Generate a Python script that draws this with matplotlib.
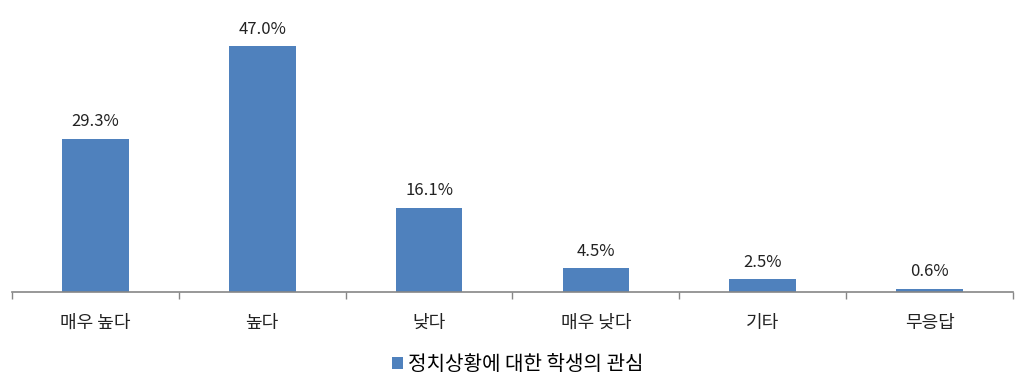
import matplotlib.pyplot as plt
import numpy as np

plt.rcParams['font.family'] = ['Noto Sans CJK KR', 'DejaVu Sans']

# data
categories = ['매우 높다', '높다', '낮다', '매우 낮다', '기타', '무응답']
values = [29.3, 47.0, 16.1, 4.5, 2.5, 0.6]
series_name = '정치상황에 대한 학생의 관심'

fig = plt.figure(figsize=(10.24, 3.89), dpi=100)
ax = fig.add_axes([12/1024, 1 - 292/389, 1001/1024, 261.5/389])

x = np.arange(len(categories))
bars = ax.bar(x, values, width=0.4, color='#4F81BD', label=series_name)

# value labels above bars
for xi, v in zip(x, values):
    ax.text(xi, v + 1.6, '{:.1f}%'.format(v), ha='center', va='bottom',
            fontsize=12, color='#222222', clip_on=False)

ax.set_xlim(-0.5, len(categories) - 0.5)
ax.set_ylim(0, 50)
ax.set_yticks([])
for s in ['top', 'right', 'left']:
    ax.spines[s].set_visible(False)
ax.spines['bottom'].set_color('#868686')
ax.spines['bottom'].set_linewidth(1.2)

ax.set_xticks(x)
ax.set_xticklabels(categories, fontsize=13, color='#222222')
ax.tick_params(axis='x', which='major', length=0, pad=16)
ax.set_xticks(np.arange(len(categories) + 1) - 0.5, minor=True)
ax.tick_params(axis='x', which='minor', length=5, color='#868686', width=1)

fig.legend(handles=[bars], labels=[series_name], loc='center',
           bbox_to_anchor=(518/1024, 1 - 365/389), frameon=False,
           fontsize=14.5, handlelength=0.55, handleheight=0.55, handletextpad=0.25)

fig.savefig('out.png', dpi=100)
